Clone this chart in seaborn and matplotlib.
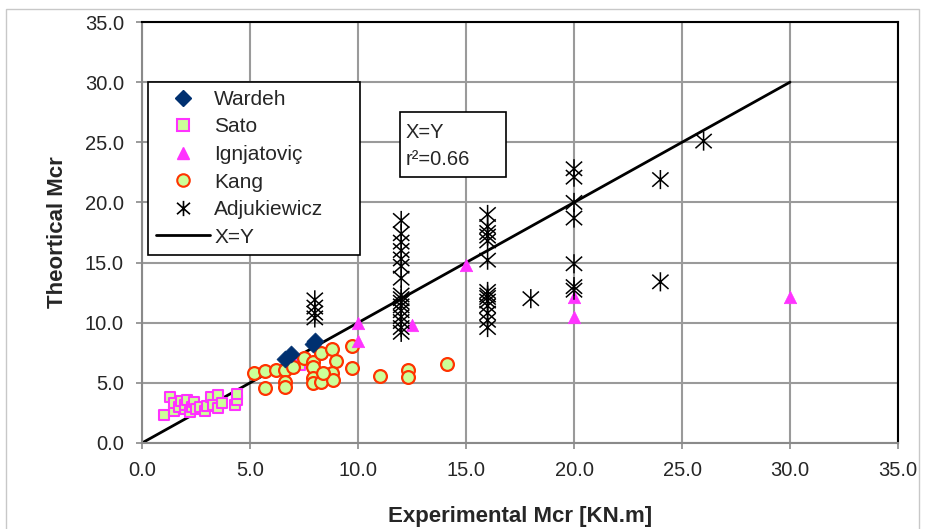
import numpy as np
import pandas as pd
import matplotlib
matplotlib.use("Agg")
import matplotlib.pyplot as plt
import seaborn as sns
from matplotlib.path import Path
from matplotlib.lines import Line2D
from matplotlib.patches import Rectangle

# ---------------- data ----------------
wardeh_x = [6.6, 6.9, 7.9, 8.0]
wardeh_y = [7.0, 7.4, 8.2, 8.5]

sato_x = [1.0, 1.3, 1.5, 1.5, 1.7, 1.8, 2.0, 2.0, 2.1, 2.2, 2.3, 2.4, 2.5, 2.7,
          2.9, 3.0, 3.2, 3.3, 3.5, 3.5, 3.7, 4.3, 4.4, 4.4, 7.3]
sato_y = [2.3, 3.8, 2.7, 3.3, 3.0, 3.5, 2.8, 3.2, 3.6, 2.6, 3.0, 3.4, 2.8, 3.0,
          2.7, 3.1, 3.8, 3.2, 2.9, 4.0, 3.3, 3.2, 3.6, 4.1, 6.5]

ign_x = [10.0, 10.0, 12.5, 15.0, 20.0, 20.0, 30.0]
ign_y = [10.0, 8.5, 9.8, 14.8, 12.1, 10.5, 12.1]

kang_x = [5.2, 5.7, 6.2, 6.6, 7.0, 5.7, 6.6, 6.6, 7.5, 7.9, 7.9, 8.3, 8.8, 9.0,
          9.7, 9.7, 7.9, 7.9, 8.3, 8.8, 8.85, 8.4, 11.0, 12.3, 12.3, 14.1]
kang_y = [5.8, 6.0, 6.05, 6.1, 6.3, 4.6, 5.1, 4.65, 7.1, 6.7, 6.3, 7.45, 7.8, 6.8,
          8.1, 6.2, 5.4, 5.0, 5.1, 5.8, 5.2, 5.8, 5.55, 6.1, 5.5, 6.6]

adj_x = ([8.0] * 4 + [12.0] * 16 + [16.0] * 14 + [18.0] + [20.0] * 7 +
         [24.0] * 2 + [26.0])
adj_y = ([11.9, 11.3, 10.8, 10.4] +
         [18.5, 17.4, 16.7, 16.0, 15.3, 14.7, 13.7, 12.3, 12.0, 11.7, 11.4, 11.0,
          10.5, 10.1, 9.6, 9.2] +
         [19.0, 18.0, 17.5, 17.2, 16.8, 15.2, 12.6, 12.3, 12.1, 11.8, 11.4, 10.8,
          10.2, 9.6] +
         [12.0] +
         [22.8, 22.1, 20.0, 18.7, 14.9, 13.0, 12.7] +
         [21.9, 13.4] +
         [25.1])

line_x = [0.0, 30.0]
line_y = [0.0, 30.0]

ticks = [0, 5, 10, 15, 20, 25, 30, 35]
tick_labels = ["0.0", "5.0", "10.0", "15.0", "20.0", "25.0", "30.0", "35.0"]

# ---------------- style ----------------
sns.set_theme(style="white")
plt.rcParams["font.family"] = ["Liberation Sans", "DejaVu Sans"]

fig = plt.figure(figsize=(9.25, 5.29), dpi=100)
ax = fig.add_axes([142 / 925, 1 - 443 / 529, (898 - 142) / 925, (443 - 22) / 529])

# outer chart-area border
fig.patches.append(Rectangle((6 / 925, -0.02), (919 - 6) / 925, 1.02 - 9 / 529,
                             transform=fig.transFigure, fill=False,
                             edgecolor="#c8c8c8", lw=1.0, zorder=0))

ast = Path([(0, -1), (0, 1), (-0.85, -0.75), (0.85, 0.75), (-0.85, 0.75), (0.85, -0.75)],
           [Path.MOVETO, Path.LINETO, Path.MOVETO, Path.LINETO, Path.MOVETO, Path.LINETO])

green = "#ccff99"
magenta = "#ff33ff"

sns.lineplot(x=line_x, y=line_y, ax=ax, color="black", lw=2.0, zorder=2)

sns.scatterplot(x=sato_x, y=sato_y, ax=ax, marker="s", s=60, color=green,
                edgecolor=magenta, linewidth=1.5, zorder=3)
sns.scatterplot(x=kang_x, y=kang_y, ax=ax, marker="o", s=85, color=green,
                edgecolor="#ff3300", linewidth=1.6, zorder=4)
sns.scatterplot(x=wardeh_x, y=wardeh_y, ax=ax, marker="D", s=75, color="#003070",
                edgecolor="#003070", linewidth=0.5, zorder=5)
sns.scatterplot(x=ign_x, y=ign_y, ax=ax, marker="^", s=80, color=magenta,
                edgecolor=magenta, linewidth=0.5, zorder=5)
ax.scatter(adj_x, adj_y, marker=ast, s=190, facecolors="none", edgecolors="black",
           linewidths=1.1, zorder=6)

ax.set_xlim(0, 35)
ax.set_ylim(0, 35)
ax.set_xticks(ticks)
ax.set_yticks(ticks)
ax.set_xticklabels(tick_labels, fontsize=14.5)
ax.set_yticklabels(tick_labels, fontsize=14.5)
ax.grid(True, color="#9a9a9a", lw=1.5)
ax.set_axisbelow(True)
for side in ["top", "right"]:
    ax.spines[side].set_color("black")
    ax.spines[side].set_linewidth(1.5)
for side in ["left", "bottom"]:
    ax.spines[side].set_color("#8a8a8a")
    ax.spines[side].set_linewidth(1.5)
ax.tick_params(axis="both", which="both", direction="out", length=4, width=1.2,
               color="#8a8a8a", bottom=True, left=True)
ax.tick_params(axis="x", pad=9)
ax.tick_params(axis="y", pad=9)

ax.set_xlabel("Experimental Mcr [KN.m]", fontsize=16, fontweight="bold", labelpad=19)
ax.set_ylabel("Theortical Mcr", fontsize=16, fontweight="bold", labelpad=12)

handles = [
    Line2D([], [], ls="none", marker="D", ms=8, mfc="#003070", mec="#003070"),
    Line2D([], [], ls="none", marker="s", ms=8, mfc=green, mec=magenta, mew=1.5),
    Line2D([], [], ls="none", marker="^", ms=9, mfc=magenta, mec=magenta),
    Line2D([], [], ls="none", marker="o", ms=9, mfc=green, mec="#ff3300", mew=1.5),
    Line2D([], [], ls="none", marker=ast, ms=11, mfc="none", mec="black", mew=1.2),
    Line2D([], [], color="black", lw=2.0),
]
labels = ["Wardeh", "Sato", "Ignjatoviç", "Kang", "Adjukiewicz", "X=Y"]
lx0 = (148 - 142) / 756
lw_ = (360 - 148) / 756
ltop = (443 - 82) / 421
leg = ax.legend(handles, labels, loc="upper left",
                bbox_to_anchor=(lx0, ltop - 0.5, lw_, 0.5), mode="expand",
                fontsize=15, frameon=True, fancybox=False, framealpha=1,
                edgecolor="black", borderpad=0.38, labelspacing=0.41,
                handlelength=2.6, handletextpad=0.2, borderaxespad=0)
leg.get_frame().set_linewidth(1.2)

# annotation box
ax.add_patch(Rectangle(((400 - 142) / 756, (443 - 177) / 421), 106 / 756, 65 / 421,
                       transform=ax.transAxes, fc="white", ec="black", lw=1.2,
                       zorder=7))
ax.text((406 - 142) / 756, (443 - 146) / 421, "X=Y\nr²=0.66", transform=ax.transAxes,
        fontsize=14.5, ha="left", va="center", linespacing=1.5, zorder=8)

fig.savefig("out.png", dpi=100)
